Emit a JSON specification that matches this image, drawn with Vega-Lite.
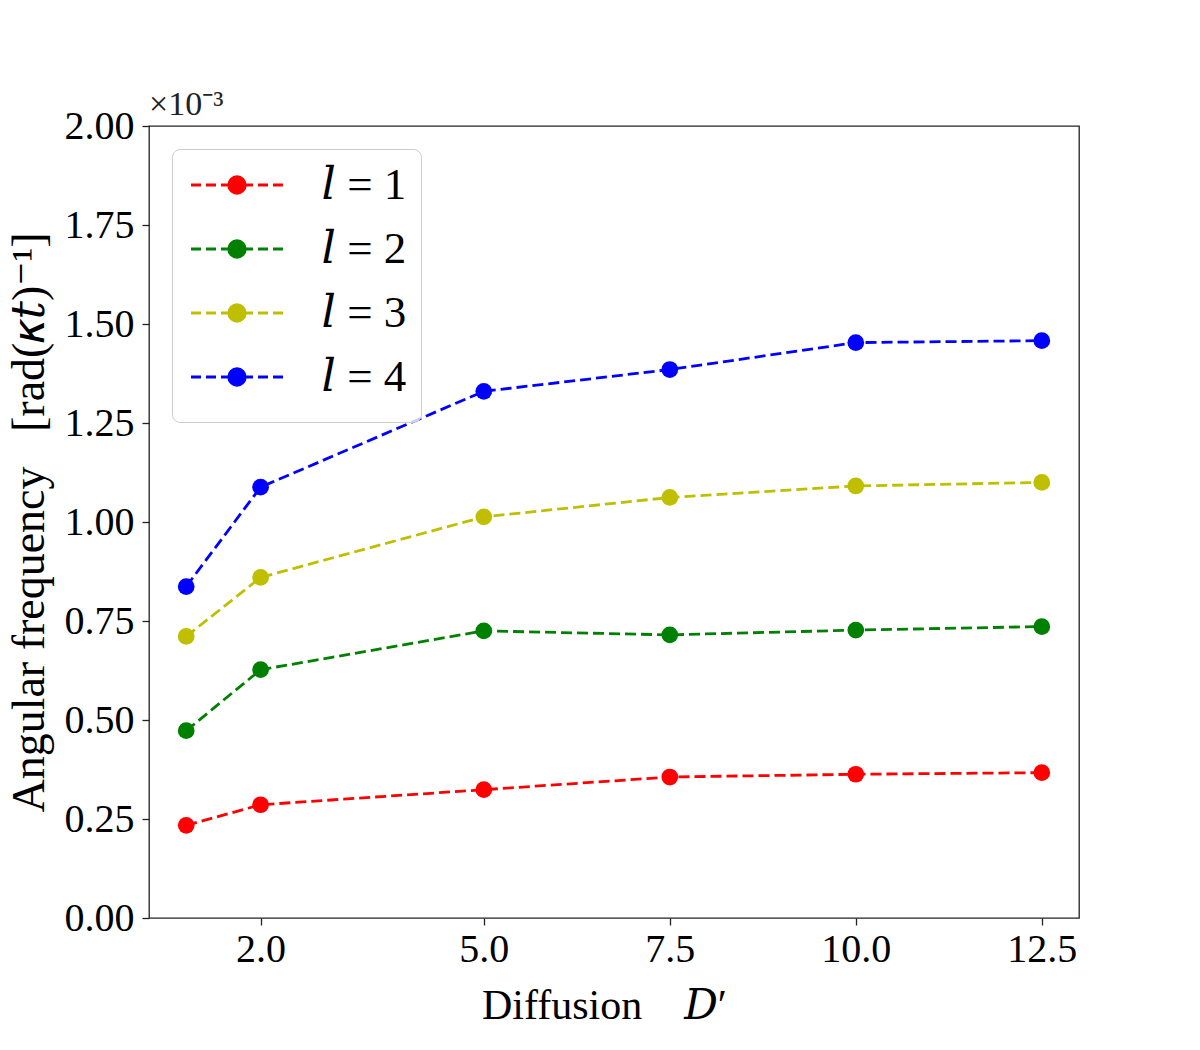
{
  "$schema": "https://vega.github.io/schema/vega-lite/v6.json",
  "width": 930,
  "height": 792,
  "autosize": {"type": "none"},
  "padding": {"left": 149, "top": 126, "right": 121, "bottom": 132},
  "background": "white",
  "config": {
    "font": "Liberation Serif",
    "view": {"stroke": "#222222", "strokeWidth": 1.3}
  },
  "title": {
    "text": "×10⁻³",
    "anchor": "start",
    "frame": "group",
    "fontSize": 34,
    "fontWeight": "normal",
    "font": "Liberation Serif",
    "color": "#222222",
    "baseline": "alphabetic",
    "offset": 0,
    "dy": 43
  },
  "data": {
    "values": [
      {"D": 1, "l": 1, "omega": 0.000234},
      {"D": 2, "l": 1, "omega": 0.000286},
      {"D": 5, "l": 1, "omega": 0.000324},
      {"D": 7.5, "l": 1, "omega": 0.000356},
      {"D": 10, "l": 1, "omega": 0.000363},
      {"D": 12.5, "l": 1, "omega": 0.000367},
      {"D": 1, "l": 2, "omega": 0.000473},
      {"D": 2, "l": 2, "omega": 0.000627},
      {"D": 5, "l": 2, "omega": 0.000725},
      {"D": 7.5, "l": 2, "omega": 0.000715},
      {"D": 10, "l": 2, "omega": 0.000727},
      {"D": 12.5, "l": 2, "omega": 0.000736},
      {"D": 1, "l": 3, "omega": 0.000711},
      {"D": 2, "l": 3, "omega": 0.000860},
      {"D": 5, "l": 3, "omega": 0.001013},
      {"D": 7.5, "l": 3, "omega": 0.001062},
      {"D": 10, "l": 3, "omega": 0.001091},
      {"D": 12.5, "l": 3, "omega": 0.001100},
      {"D": 1, "l": 4, "omega": 0.000837},
      {"D": 2, "l": 4, "omega": 0.001088},
      {"D": 5, "l": 4, "omega": 0.001330},
      {"D": 7.5, "l": 4, "omega": 0.001385},
      {"D": 10, "l": 4, "omega": 0.001453},
      {"D": 12.5, "l": 4, "omega": 0.001458}
    ]
  },
  "encoding": {
    "x": {
      "field": "D",
      "type": "quantitative",
      "scale": {"domain": [0.5, 13], "nice": false, "zero": false},
      "axis": {
        "values": [2, 5, 7.5, 10, 12.5],
        "format": ".1f",
        "grid": false,
        "domain": false,
        "tickColor": "#222222",
        "tickWidth": 1.3,
        "tickSize": 7,
        "labelFontSize": 40,
        "labelColor": "#000000",
        "labelPadding": 4,
        "title": "Diffusion\u00a0\u00a0\u00a0\u00a0𝐷′",
        "titleFont": "'Liberation Serif', 'DejaVu Serif', serif",
        "titleFontSize": 42,
        "titleFontWeight": "normal",
        "titleColor": "#000000",
        "titleBaseline": "alphabetic",
        "titleAlign": "center",
        "titleX": 455,
        "titleY": 100
      }
    },
    "y": {
      "field": "omega",
      "type": "quantitative",
      "scale": {"domain": [0, 0.002], "nice": false},
      "axis": {
        "values": [0, 0.00025, 0.0005, 0.00075, 0.001, 0.00125, 0.0015, 0.00175, 0.002],
        "labelExpr": "format(datum.value * 1000, '.2f')",
        "grid": false,
        "domain": false,
        "tickColor": "#222222",
        "tickWidth": 1.3,
        "tickSize": 7,
        "labelFontSize": 40,
        "labelColor": "#000000",
        "labelPadding": 8,
        "title": "Angular frequency\u00a0\u00a0\u00a0[rad(𝜅𝑡)⁻¹]",
        "titleFont": "'Liberation Serif', 'DejaVu Serif', serif",
        "titleFontSize": 46,
        "titleFontWeight": "normal",
        "titleColor": "#000000",
        "titleAngle": -90,
        "titleBaseline": "alphabetic",
        "titleAlign": "center",
        "titleX": -106,
        "titleY": 396
      }
    },
    "color": {
      "field": "l",
      "type": "nominal",
      "scale": {"domain": [1, 2, 3, 4], "range": ["#ff0000", "#008000", "#bfbf00", "#0000ff"]},
      "legend": {
        "title": null,
        "orient": "top-left",
        "offset": 23,
        "padding": 14,
        "fillColor": "rgba(255,255,255,0.8)",
        "strokeColor": "#cccccc",
        "cornerRadius": 8,
        "clipHeight": 53,
        "rowPadding": 11,
        "symbolType": "M-1,0H-0.783M-0.674,0H-0.457M-0.348,0H-0.15M0.15,0H0.348M0.457,0H0.674M0.783,0H1M0.18,0A0.18,0.18,0,1,1,-0.18,0A0.18,0.18,0,1,1,0.18,0Z",
        "symbolSize": 8464,
        "symbolStrokeWidth": 2.8,
        "symbolOpacity": 1,
        "symbolOffset": 3.5,
        "labelOffset": 37,
        "labelFont": "'Liberation Serif', 'DejaVu Serif', serif",
        "labelFontSize": 45,
        "labelColor": "#000000",
        "labelExpr": "'𝑙 = ' + datum.label",
        "encode": {
          "symbols": {
            "update": {
              "fill": {"scale": "color", "field": "value"},
              "stroke": {"scale": "color", "field": "value"},
              "y": {"value": 22}
            }
          },
          "labels": {
            "update": {"y": {"value": 22}}
          }
        }
      }
    }
  },
  "layer": [
    {
      "mark": {"type": "line", "strokeWidth": 2.8, "strokeDash": [11, 5]}
    },
    {
      "mark": {"type": "point", "filled": true, "size": 280, "opacity": 1, "shape": "circle"}
    }
  ]
}
